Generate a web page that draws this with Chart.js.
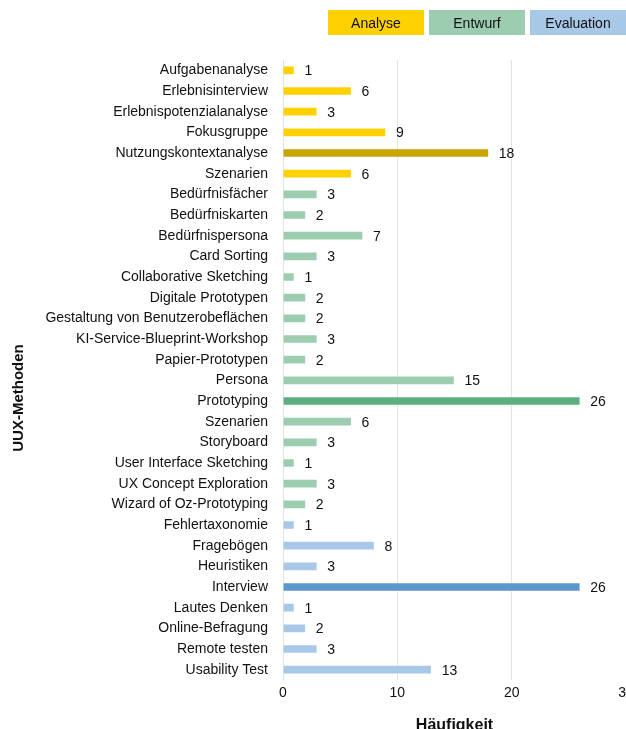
<!DOCTYPE html>
<html><head><meta charset="utf-8">
<script src="https://cdn.jsdelivr.net/npm/chart.js@4/dist/chart.umd.min.js"></script>
<style>
html,body{margin:0;padding:0;background:#fff;overflow:hidden;width:626px;height:729px;}
#wrap{position:absolute;left:0;top:0;width:646px;height:739px;}
#legend{position:absolute;top:10px;left:328px;display:flex;gap:5px;font-family:"Liberation Sans",Arial,sans-serif;font-size:14px;color:#111;z-index:2;}
#legend div{width:96px;height:25px;line-height:26px;text-align:center;}
</style></head>
<body>
<div id="legend"></div>
<div id="wrap"><canvas id="c" width="646" height="739"></canvas></div>
<script>
const categories = ["Aufgabenanalyse","Erlebnisinterview","Erlebnispotenzialanalyse","Fokusgruppe","Nutzungskontextanalyse","Szenarien",
"Bedürfnisfächer","Bedürfniskarten","Bedürfnispersona","Card Sorting","Collaborative Sketching","Digitale Prototypen","Gestaltung von Benutzerobeflächen","KI-Service-Blueprint-Workshop","Papier-Prototypen","Persona","Prototyping","Szenarien","Storyboard","User Interface Sketching","UX Concept Exploration","Wizard of Oz-Prototyping",
"Fehlertaxonomie","Fragebögen","Heuristiken","Interview","Lautes Denken","Online-Befragung","Remote testen","Usability Test"];
const phases = ["Analyse","Analyse","Analyse","Analyse","Analyse","Analyse",
"Entwurf","Entwurf","Entwurf","Entwurf","Entwurf","Entwurf","Entwurf","Entwurf","Entwurf","Entwurf","Entwurf","Entwurf","Entwurf","Entwurf","Entwurf","Entwurf",
"Evaluation","Evaluation","Evaluation","Evaluation","Evaluation","Evaluation","Evaluation","Evaluation"];
const values = [1,6,3,9,18,6, 3,2,7,3,1,2,2,3,2,15,26,6,3,1,3,2, 1,8,3,26,1,2,3,13];
const highlighted = ["Nutzungskontextanalyse","Prototyping","Interview"];
const legendNames = ["Analyse","Entwurf","Evaluation"];
const xTicks = [0,10,20,30];
const yTitle = "UUX-Methoden";

const baseColor = {Analyse:"#FFD100",Entwurf:"#9DCDB1",Evaluation:"#A8C8E7"};
const darkColor = {Analyse:"#C9A500",Entwurf:"#5EAF80",Evaluation:"#5B96CF"};
const FONT = '"Liberation Sans", Arial, sans-serif';

const lg = document.getElementById('legend');
legendNames.forEach(n=>{const d=document.createElement('div');d.textContent=n;d.style.background=baseColor[n];lg.appendChild(d);});

const colors = categories.map((c,i)=> highlighted.includes(c) ? darkColor[phases[i]] : baseColor[phases[i]]);

const valueLabels = {
  id:'valueLabels',
  afterDatasetsDraw(chart){
    const ctx=chart.ctx; const meta=chart.getDatasetMeta(0);
    ctx.save(); ctx.font='14px '+FONT; ctx.fillStyle='#111'; ctx.textBaseline='middle'; ctx.textAlign='left';
    meta.data.forEach((bar,i)=>{ ctx.fillText(String(values[i]), bar.x+10, bar.y+1); });
    ctx.restore();
  }
};
const yTitlePlugin = {
  id:'yTitlePlugin',
  afterDraw(chart){
    const ctx=chart.ctx, a=chart.chartArea;
    ctx.save(); ctx.font='bold 15px '+FONT; ctx.fillStyle='#111'; ctx.textAlign='center'; ctx.textBaseline='middle';
    ctx.translate(19,(a.top+a.bottom)/2+28); ctx.rotate(-Math.PI/2); ctx.fillText(yTitle,0,0);
    ctx.restore();
  }
};

new Chart(document.getElementById('c'),{
  type:'bar',
  data:{labels:categories,datasets:[{data:values,backgroundColor:colors,borderColor:'rgba(255,255,255,0.6)',borderWidth:1,barThickness:9}]},
  options:{
    indexAxis:'y',responsive:false,animation:false,
    layout:{padding:{top:60,right:20,left:0,bottom:0}},
    plugins:{legend:{display:false},tooltip:{enabled:false}},
    scales:{
      x:{min:0,max:30,
        afterBuildTicks(s){s.ticks=xTicks.map(v=>({value:v}));},
        grid:{color:'#e3e3e3',drawTicks:false},border:{display:false},
        ticks:{font:{family:FONT,size:14},color:'#111',padding:5,maxRotation:0},
        title:{display:true,text:'Häufigkeit',font:{family:FONT,size:16,weight:'bold'},color:'#111',padding:{top:9}}
      },
      y:{
        afterFit(s){s.width=283;},
        grid:{display:false},border:{display:false},
        ticks:{font:{family:FONT,size:14},color:'#111',padding:7,autoSkip:false},
        title:{display:false}
      }
    }
  },
  plugins:[valueLabels,yTitlePlugin]
});
</script>
</body></html>
